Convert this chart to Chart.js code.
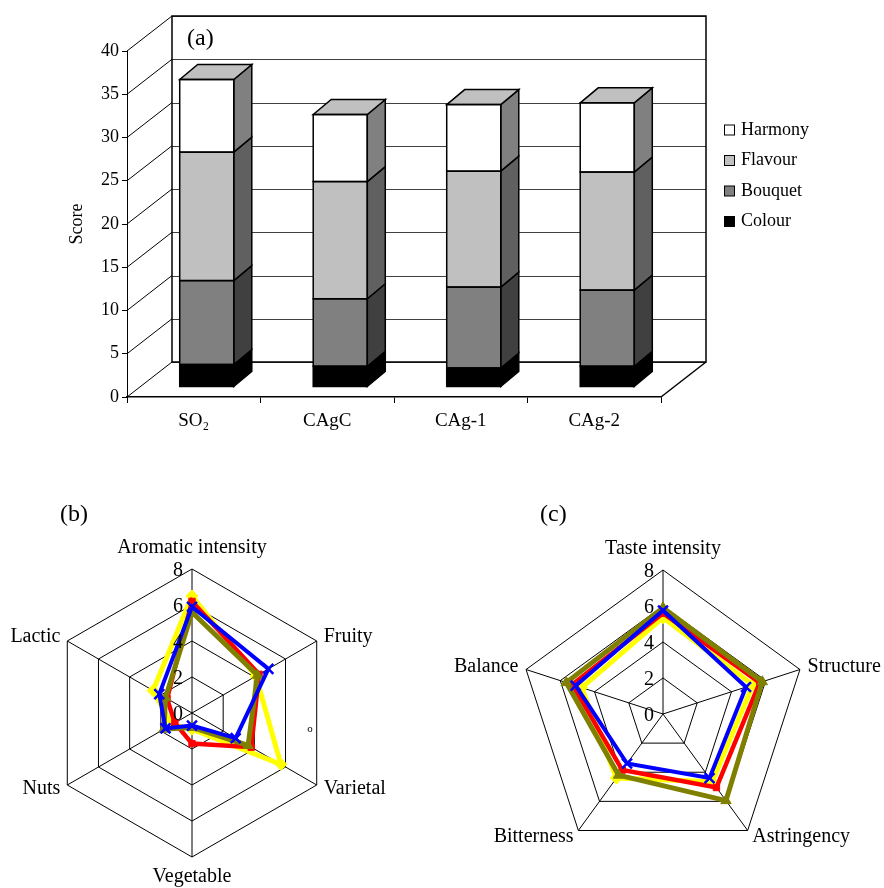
<!DOCTYPE html>
<html>
<head>
<meta charset="utf-8">
<script src="https://cdn.jsdelivr.net/npm/chart.js@4.4.1/dist/chart.umd.min.js"></script>
<style>
  html, body { margin: 0; padding: 0; background: #ffffff; }
  body { width: 884px; height: 888px; position: relative; overflow: hidden; }
  canvas { position: absolute; }
  #barCanvas { left: 0; top: 0; }
  #aromaCanvas { left: 0; top: 480px; }
  #tasteCanvas { left: 440px; top: 480px; }
</style>
</head>
<body>
<canvas id="barCanvas" width="884" height="450"></canvas>
<canvas id="aromaCanvas" width="440" height="408"></canvas>
<canvas id="tasteCanvas" width="444" height="408"></canvas>
<script>
// ---------- DATA ----------
// (a) stacked scores
const wines = ['SO₂', 'CAgC', 'CAg-1', 'CAg-2'];
const colourScore  = [2.6, 2.4, 2.2, 2.4];
const bouquetScore = [9.7, 7.8, 9.35, 8.8];
const flavourScore = [14.85, 13.55, 13.4, 13.65];
const harmonyScore = [8.4, 7.75, 7.7, 8.0];
const scoreTickLabels = ['0', '5', '10', '15', '20', '25', '30', '35', '40'];

// (b) aroma profile
const aromaAttributes = ['Aromatic intensity', 'Fruity', 'Varietal', 'Vegetable', 'Nuts', 'Lactic'];
const aromaSO2  = [6.2, 4.3, 3.8, 1.7, 1.1, 1.6];
const aromaCAgC = [6.5, 4.1, 5.7, 0.9, 1.3, 2.5];
const aromaCAg1 = [5.9, 4.9, 2.8, 0.7, 1.7, 2.1];
const aromaCAg2 = [5.6, 4.2, 3.6, 0.8, 1.8, 1.7];

// (c) taste profile
const tasteAttributes = ['Taste intensity', 'Structure', 'Astringency', 'Bitterness', 'Balance'];
const tasteSO2  = [5.6, 5.65, 5.05, 3.85, 5.3];
const tasteCAgC = [5.35, 5.25, 4.65, 4.4, 4.75];
const tasteCAg1 = [5.75, 4.85, 4.4, 3.4, 5.1];
const tasteCAg2 = [5.9, 5.8, 5.95, 4.2, 5.65];

const radarTickLabels = ['0', '2', '4', '6', '8'];

// ---------- STYLE ----------
const SERIF = "'Liberation Serif', 'Times New Roman', 'DejaVu Serif', serif";
const WALL = { dx: 45, dy: 35 };
const BAR_SHIFT = { dx: 13, dy: 10 };
const BAR_DEPTH = { dx: 18, dy: 15 };

// ---------- (a) 3D stacked bar ----------
const bar3d = {
  id: 'bar3d',
  beforeDatasetsDraw(chart) {
    const ctx = chart.ctx, a = chart.chartArea, y = chart.scales.y;
    const yTop = y.getPixelForValue(y.max), yBot = y.getPixelForValue(y.min);
    const L = a.left + WALL.dx, R = a.right + WALL.dx, T = yTop - WALL.dy, B = yBot - WALL.dy;
    ctx.save();
    ctx.lineWidth = 1;
    ctx.strokeStyle = '#404040';
    y.ticks.forEach(t => {
      const py = Math.round(y.getPixelForValue(t.value) - WALL.dy) + 0.5;
      ctx.beginPath(); ctx.moveTo(L, py); ctx.lineTo(R, py); ctx.stroke();
    });
    ctx.strokeStyle = '#000000';
    y.ticks.forEach(t => {
      const py = y.getPixelForValue(t.value);
      ctx.beginPath(); ctx.moveTo(a.left, py); ctx.lineTo(L, py - WALL.dy); ctx.stroke();
    });
    ctx.lineWidth = 1.5;
    ctx.beginPath(); ctx.moveTo(a.right, yBot); ctx.lineTo(R, B); ctx.stroke();
    ctx.strokeRect(L, T, R - L, B - T);
    ctx.restore();
    ctx.save();
    ctx.translate(BAR_SHIFT.dx, -BAR_SHIFT.dy);
  },
  afterDatasetsDraw(chart) {
    const ctx = chart.ctx;
    const n = chart.data.datasets.length;
    chart.data.datasets.forEach((ds, di) => {
      const meta = chart.getDatasetMeta(di);
      meta.data.forEach(el => {
        const p = el.getProps(['x', 'y', 'base', 'width'], true);
        const l = p.x - p.width / 2, r = p.x + p.width / 2;
        const t = Math.min(p.y, p.base), b = Math.max(p.y, p.base);
        ctx.lineWidth = 1.5;
        ctx.strokeStyle = '#000000';
        ctx.lineJoin = 'miter';
        ctx.beginPath();
        ctx.moveTo(r, t);
        ctx.lineTo(r + BAR_DEPTH.dx, t - BAR_DEPTH.dy);
        ctx.lineTo(r + BAR_DEPTH.dx, b - BAR_DEPTH.dy);
        ctx.lineTo(r, b);
        ctx.closePath();
        ctx.fillStyle = ds.sideColor;
        ctx.fill(); ctx.stroke();
        if (di === n - 1) {
          ctx.beginPath();
          ctx.moveTo(l, t);
          ctx.lineTo(l + BAR_DEPTH.dx, t - BAR_DEPTH.dy);
          ctx.lineTo(r + BAR_DEPTH.dx, t - BAR_DEPTH.dy);
          ctx.lineTo(r, t);
          ctx.closePath();
          ctx.fillStyle = ds.topColor;
          ctx.fill(); ctx.stroke();
        }
        ctx.strokeRect(l, t, r - l, b - t);
      });
    });
    ctx.restore();
  },
  afterDraw(chart) {
    const ctx = chart.ctx;
    ctx.save();
    ctx.fillStyle = '#000000';
    ctx.textBaseline = 'middle';
    ctx.textAlign = 'left';
    ctx.font = '24px ' + SERIF;
    ctx.fillText('(a)', 187, 39);
    ctx.font = '18px ' + SERIF;
    const items = chart.data.datasets.slice().reverse();
    items.forEach((ds, i) => {
      const cy = 130 + i * 30.5;
      ctx.fillStyle = ds.backgroundColor;
      ctx.fillRect(724.5, cy - 5, 10, 10);
      ctx.lineWidth = 1;
      ctx.strokeStyle = '#000000';
      ctx.strokeRect(724.5, cy - 5, 10, 10);
      ctx.fillStyle = '#000000';
      ctx.fillText(ds.label, 741, cy);
    });
    ctx.restore();
  }
};

new Chart(document.getElementById('barCanvas'), {
  type: 'bar',
  data: {
    labels: wines,
    datasets: [
      { label: 'Colour',  data: colourScore,  backgroundColor: '#000000', sideColor: '#000000', topColor: '#c0c0c0' },
      { label: 'Bouquet', data: bouquetScore, backgroundColor: '#808080', sideColor: '#404040', topColor: '#c0c0c0' },
      { label: 'Flavour', data: flavourScore, backgroundColor: '#c0c0c0', sideColor: '#606060', topColor: '#c0c0c0' },
      { label: 'Harmony', data: harmonyScore, backgroundColor: '#ffffff', sideColor: '#808080', topColor: '#c0c0c0' }
    ].map(d => Object.assign(d, { borderWidth: 0, categoryPercentage: 0.5, barPercentage: 0.81, clip: false }))
  },
  options: {
    responsive: false,
    animation: false,
    layout: { padding: { left: 62, right: 223, top: 51, bottom: 13 } },
    plugins: { legend: { display: false }, tooltip: { enabled: false } },
    scales: {
      x: {
        stacked: true,
        grid: { display: true, drawOnChartArea: false, drawTicks: true, tickLength: 6, color: '#000000', offset: true, lineWidth: 1 },
        border: { display: true, color: '#000000', width: 1.5 },
        ticks: { color: '#000000', font: { family: SERIF, size: 19 }, padding: 7, maxRotation: 0 },
        afterFit(s) { s.height = 40; }
      },
      y: {
        stacked: true,
        min: 0, max: 40,
        ticks: { stepSize: 5, color: '#000000', font: { family: SERIF, size: 18 }, padding: 3,
                 callback: (v, i) => scoreTickLabels[i] },
        grid: { drawOnChartArea: false, drawTicks: true, tickLength: 5, color: '#000000' },
        border: { display: true, color: '#000000', width: 1 },
        title: { display: true, text: 'Score', color: '#000000', font: { family: SERIF, size: 18 }, padding: { top: 4, bottom: 4 } },
        afterFit(s) { s.width = 65; }
      }
    }
  },
  plugins: [bar3d]
});

// ---------- (b), (c) radar ----------
function radarDatasets(so2, cagc, cag1, cag2) {
  return [
    { label: 'CAg-1', data: cag1, borderColor: '#0000ff', borderWidth: 4, pointStyle: 'crossRot',
      pointRadius: 7, pointBorderWidth: 2.5, pointBorderColor: '#0000ff', pointBackgroundColor: '#0000ff' },
    { label: 'CAg-2', data: cag2, borderColor: '#808000', borderWidth: 5, pointStyle: 'triangle',
      pointRadius: 6, pointBorderWidth: 1, pointBorderColor: '#808000', pointBackgroundColor: '#808000' },
    { label: 'SO₂', data: so2, borderColor: '#ff0000', borderWidth: 4.5, pointStyle: 'rect',
      pointRadius: 4.5, pointBorderWidth: 1, pointBorderColor: '#ff0000', pointBackgroundColor: '#ff0000' },
    { label: 'CAgC', data: cagc, borderColor: '#ffff00', borderWidth: 5, pointStyle: 'rectRot',
      pointRadius: 6, pointBorderWidth: 1, pointBorderColor: '#ffff00', pointBackgroundColor: '#ffff00' }
  ].map(d => Object.assign(d, { fill: false, tension: 0, clip: false }));
}

function radarText(tag, tagX, tagY, note) {
  return {
    id: 'radarText',
    afterDatasetsDraw(chart) {
      const r = chart.scales.r, ctx = chart.ctx;
      ctx.save();
      ctx.fillStyle = '#000000';
      ctx.font = '20px ' + SERIF;
      ctx.textAlign = 'right';
      ctx.textBaseline = 'middle';
      r.ticks.forEach((t, i) => {
        const d = r.getDistanceFromCenterForValue(t.value);
        ctx.fillText(radarTickLabels[i], r.xCenter - 9, r.yCenter - d + 2);
      });
      ctx.restore();
    },
    afterDraw(chart) {
      const r = chart.scales.r, ctx = chart.ctx;
      const labels = chart.data.labels, n = labels.length;
      ctx.save();
      ctx.fillStyle = '#000000';
      ctx.font = '20px ' + SERIF;
      ctx.textBaseline = 'middle';
      labels.forEach((text, i) => {
        const deg = i * 360 / n;
        const p = r.getPointPosition(i, r.drawingArea + 8);
        let x = p.x, y = p.y, align;
        if (deg < 1) { align = 'center'; y = r.yCenter - r.drawingArea - 21; }
        else if (Math.abs(deg - 180) < 1) { align = 'center'; y = r.yCenter + r.drawingArea + 20; }
        else if (deg < 180) { align = 'left'; }
        else { align = 'right'; }
        ctx.textAlign = align;
        ctx.fillText(text, x, y);
      });
      ctx.textAlign = 'left';
      ctx.font = '24px ' + SERIF;
      ctx.fillText(tag, tagX, tagY);
      if (note) {
        ctx.font = '11px ' + SERIF;
        ctx.textAlign = 'center';
        ctx.fillText(note.text, r.xCenter + note.dx, r.yCenter + note.dy);
      }
      ctx.restore();
    }
  };
}

function radarOptions(padding) {
  return {
    responsive: false,
    animation: false,
    layout: { padding: padding },
    plugins: { legend: { display: false }, tooltip: { enabled: false } },
    scales: {
      r: {
        min: 0, max: 8,
        startAngle: 0,
        beginAtZero: true,
        ticks: { stepSize: 2, display: false },
        pointLabels: { display: false },
        grid: { color: '#000000', lineWidth: 1 },
        angleLines: { color: '#000000', lineWidth: 1 }
      }
    }
  };
}

new Chart(document.getElementById('aromaCanvas'), {
  type: 'radar',
  data: { labels: aromaAttributes, datasets: radarDatasets(aromaSO2, aromaCAgC, aromaCAg1, aromaCAg2) },
  options: radarOptions({ left: 48, top: 89, right: 104, bottom: 31 }),
  plugins: [radarText('(b)', 60, 35, { text: 'o', dx: 118, dy: 16 })]
});

new Chart(document.getElementById('tasteCanvas'), {
  type: 'radar',
  data: { labels: tasteAttributes, datasets: radarDatasets(tasteSO2, tasteCAgC, tasteCAg1, tasteCAg2) },
  options: radarOptions({ left: 79, top: 90, right: 77, bottom: 30 }),
  plugins: [radarText('(c)', 100, 35, null)]
});
</script>
</body>
</html>
